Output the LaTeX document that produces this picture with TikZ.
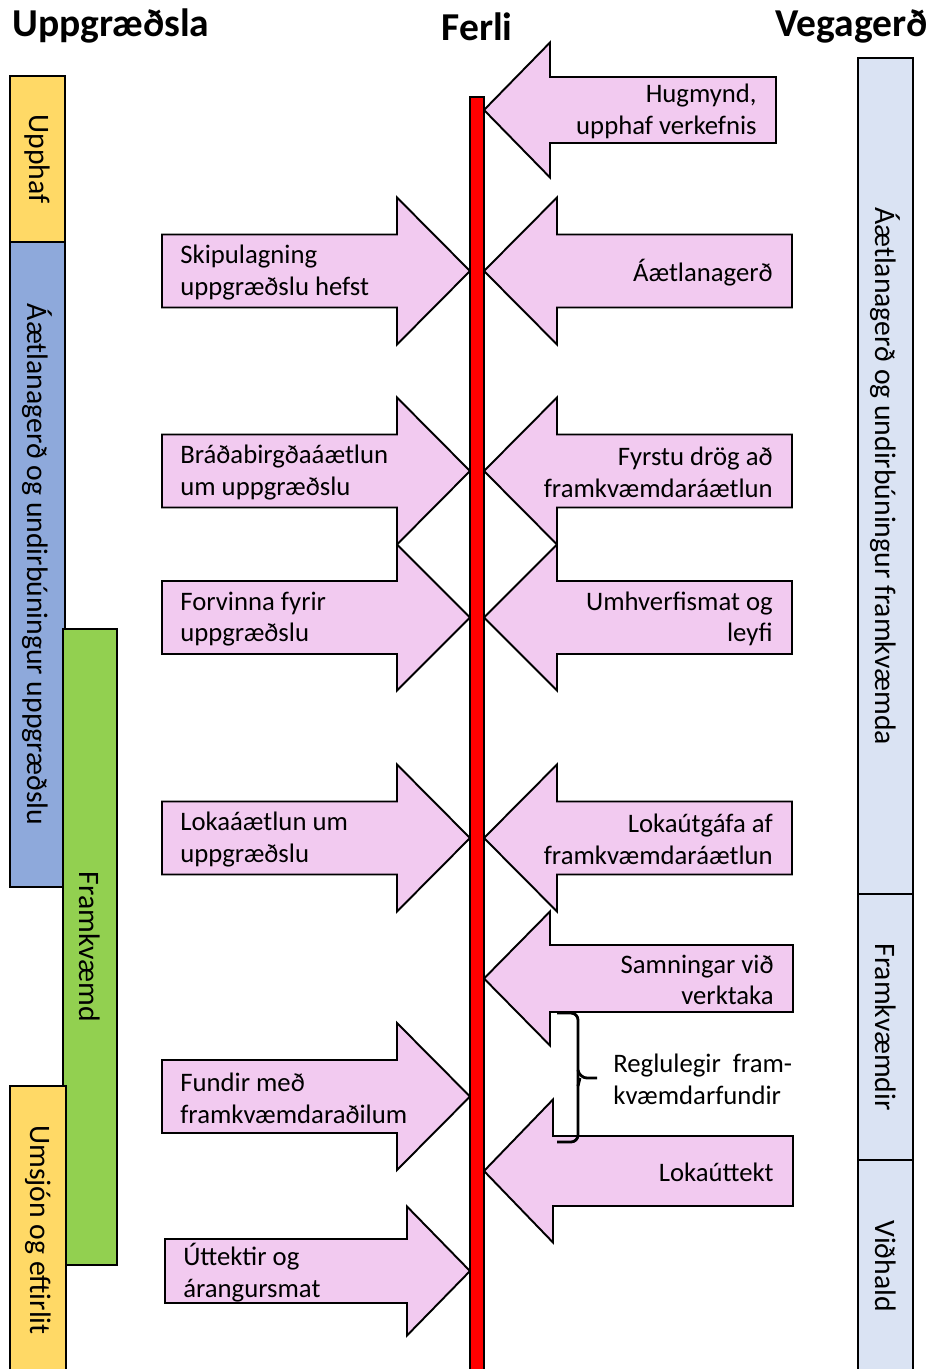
\documentclass[tikz,border=0pt]{standalone}
\usepackage{fontspec}
\setmainfont{Carlito}

\definecolor{arrpink}{RGB}{242,202,240}
\definecolor{baryellow}{RGB}{255,217,102}
\definecolor{barblue}{RGB}{142,169,219}
\definecolor{bargreen}{RGB}{146,208,80}
\definecolor{barlight}{RGB}{218,227,243}

\tikzset{
  arrbox/.style={draw=black, fill=arrpink, line width=1.1pt},
  arrtext/.style={inner sep=0pt, font=\fontsize{15.2}{18}\selectfont},
  barbox/.style={draw=black, line width=1.1pt},
  bartext/.style={rotate=-90, inner sep=0pt, font=\fontsize{16.9}{19}\selectfont},
  header/.style={inner sep=0pt, font=\fontsize{22.5}{26}\selectfont\bfseries},
  bracket/.style={line width=1.6pt, rounded corners=4pt},
}

% arrow pointing to the line from the left: name, y, left end, head base, half body, half head, text
\newcommand{\toright}[7]{%
  \draw[arrbox] (#3,#2-#5) -- (#4,#2-#5) -- (#4,#2-#6) -- (470,#2) -- (#4,#2+#6) -- (#4,#2+#5) -- (#3,#2+#5) -- cycle;
  \node[arrtext, anchor=west, align=left] (#1) at (#3+18,#2+1.5) {#7};}
% arrow pointing to the line from the right: name, y, right end, head base, half body, half head, text
\newcommand{\toleft}[7]{%
  \draw[arrbox] (#3,#2-#5) -- (#4,#2-#5) -- (#4,#2-#6) -- (484,#2) -- (#4,#2+#6) -- (#4,#2+#5) -- (#3,#2+#5) -- cycle;
  \node[arrtext, anchor=east, align=right] (#1) at (#3-19,#2+1.5) {#7};}

\begin{document}
\begin{tikzpicture}[x=0.02cm, y=-0.02cm]
\useasboundingbox (0,0) rectangle (932,1369);

% Headers
\node[header, anchor=base west] (upp) at (12,36) {Uppgræðsla};
\node[header, anchor=base] (ferli) at (477,40) {Ferli};
\node[header, anchor=base east] (vega) at (928,36) {Vegagerð};

% Left bars
\draw[barbox, fill=barblue] (10,242) rectangle (65,887);
\node[bartext] (aetlupp) at (37.5,564.5) {Áætlanagerð og undirbúningur uppgræðslu};
\draw[barbox, fill=baryellow] (10,76) rectangle (65,242);
\node[bartext] (upphaf) at (37.5,159) {Upphaf};
\draw[barbox, fill=bargreen] (63,629) rectangle (117,1265);
\node[bartext] (framkv) at (90,947) {Framkvæmd};
\draw[barbox, fill=baryellow] (10,1086) rectangle (66,1380);
\node[bartext] (umsjon) at (38,1230) {Umsjón og eftirlit};

% Right bars
\draw[barbox, fill=barlight] (858,58) rectangle (913,894);
\node[bartext] (aetlveg) at (885.5,476) {Áætlanagerð og undirbúningur framkvæmda};
\draw[barbox, fill=barlight] (858,894) rectangle (913,1160);
\node[bartext] (framkvdir) at (885.5,1027) {Framkvæmdir};
\draw[barbox, fill=barlight] (858,1160) rectangle (913,1380);
\node[bartext] (vidhald) at (885.5,1266) {Viðhald};

% Arrows from the left
\toright{skipul}{271}{162}{397}{36.5}{73.5}{Skipulagning\\uppgræðslu hefst}
\toright{bradab}{471}{162}{397}{36.5}{73.5}{Bráðabirgðaáætlun\\um uppgræðslu}
\toright{forvinna}{617.5}{162}{397}{36.5}{73}{Forvinna fyrir\\uppgræðslu}
\toright{lokaaetl}{838}{162}{397}{36.5}{73.5}{Lokaáætlun um\\uppgræðslu}
\toright{fundir}{1096.5}{162}{397}{36.5}{73.5}{Fundir með\\framkvæmdaraðilum}
\toright{uttektir}{1271}{165}{407}{32}{64.5}{Úttektir og\\árangursmat}

% Arrows from the right
\toleft{hugmynd}{110}{776}{550}{33}{67.5}{Hugmynd,\\upphaf verkefnis}
\toleft{aetlgerd}{271}{792}{557}{36.5}{73.5}{Áætlanagerð}
\toleft{fyrstu}{471}{792}{557}{36.5}{73.5}{Fyrstu drög að\\framkvæmdaráætlun}
\toleft{umhverf}{617.5}{792}{557}{36.5}{73}{Umhverfismat og\\leyfi}
\toleft{lokautg}{838}{792}{557}{36.5}{73.5}{Lokaútgáfa af\\framkvæmdaráætlun}
\toleft{samning}{978.5}{793}{550}{33.5}{67}{Samningar við\\verktaka}
\toleft{lokautt}{1171}{793}{553}{35}{71.5}{Lokaúttekt}

% The line
\draw[fill=red, line width=1.1pt] (470,97) rectangle (484,1380);

% Bracket
\coordinate (bracetop) at (557,1013);
\coordinate (bracebot) at (557,1142);
\coordinate (bracetip) at (597,1078);
\draw[bracket] (bracetop) -- (578,1013) -- (578,1142) -- (bracebot);
\draw[bracket] (578,1070) -- (580,1078) -- (bracetip);
\draw[bracket] (578,1086) -- (580,1078);
\node[arrtext, anchor=west, align=left] (regl) at (613,1079) {Reglulegir\hspace{0.45em}fram-\\kvæmdarfundir};
\end{tikzpicture}
\end{document}
